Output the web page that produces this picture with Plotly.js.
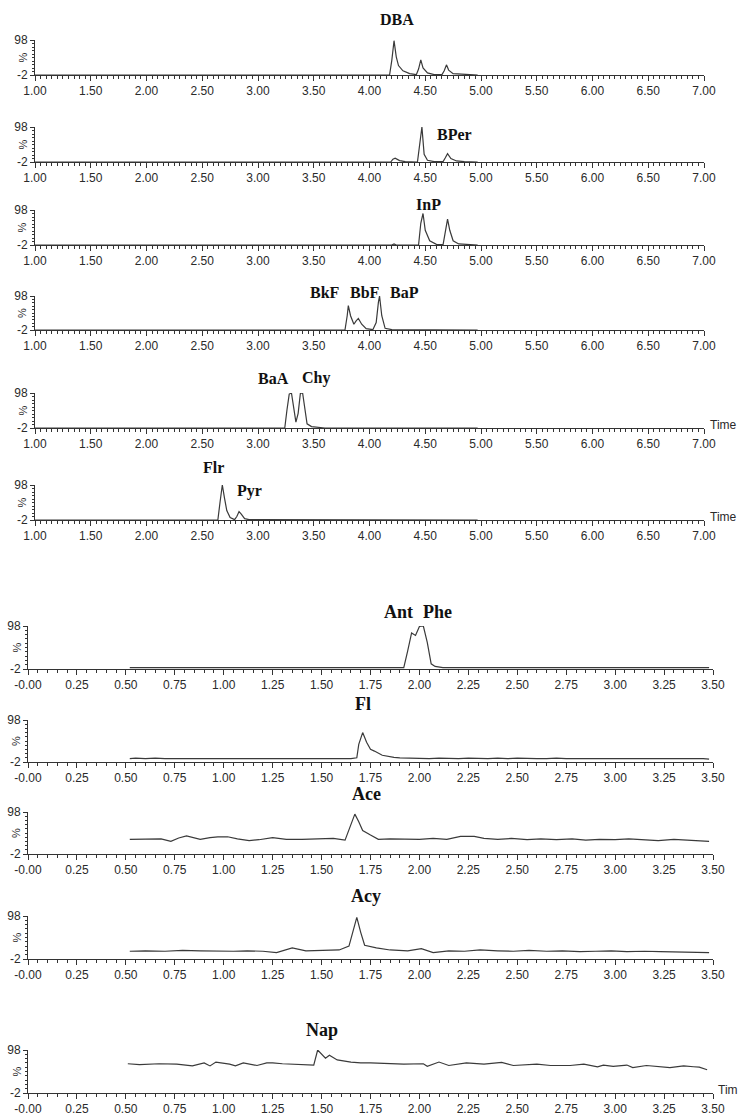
<!DOCTYPE html>
<html>
<head>
<meta charset="utf-8">
<script src="https://cdn.plot.ly/plotly-3.0.1.min.js"></script>
<style>html,body{margin:0;padding:0;background:#fff;}#chart{width:739px;height:1119px;}</style>
</head>
<body>
<div id="chart"></div>
<script>
// ---------- DATA ----------
// Upper chromatograms (retention time 1.00 - 7.00 min)
const dbaX = [1.00,4.18,4.20,4.22,4.24,4.26,4.30,4.36,4.42,4.44,4.46,4.48,4.52,4.58,4.65,4.67,4.69,4.71,4.75,4.82,4.90,4.97];
const dbaY = [-2,-2,40,96,50,25,10,2,-1,15,41,18,4,-1,-1,10,27,12,2,0,-1,-2];

const bperX = [1.00,4.19,4.21,4.23,4.27,4.32,4.43,4.45,4.47,4.49,4.52,4.58,4.66,4.68,4.70,4.73,4.78,4.85,4.97];
const bperY = [-2,-2,6,9,2,-1,-2,50,98,20,3,-1,-1,10,22,8,1,-1,-2];

const inpX = [1.00,4.20,4.22,4.24,4.44,4.46,4.48,4.50,4.54,4.60,4.66,4.68,4.70,4.72,4.75,4.80,4.88,4.97];
const inpY = [-2,-2,1,-2,-2,60,88,40,10,0,-1,40,72,40,10,1,-1,-2];

const bbfX = [1.00,3.78,3.80,3.81,3.83,3.86,3.88,3.90,3.93,3.97,4.03,4.06,4.08,4.09,4.11,4.14,4.20,4.97];
const bbfY = [-2,-2,40,70,40,15,25,32,15,2,-1,20,80,98,40,3,-1,-2];

const baaX = [1.00,3.24,3.26,3.28,3.30,3.32,3.34,3.36,3.38,3.40,3.42,3.44,3.48,3.55,3.60,4.97];
const baaY = [-2,-2,50,95,98,60,15,40,97,98,60,10,2,0,-2,-2];

const flrX = [1.00,2.64,2.66,2.68,2.70,2.72,2.75,2.79,2.81,2.83,2.85,2.88,2.92,4.97];
const flrY = [-2,-2,50,98,60,25,5,-1,8,22,15,2,-1,-2];

// Lower chromatograms (retention time 0.00 - 3.50 min)
const pheX = [0.52,1.92,1.94,1.96,1.98,2.00,2.02,2.04,2.06,2.08,2.12,3.48];
const pheY = [1,1,40,82,76,97,98,60,10,4,1,1];

const flX = [0.52,0.55,0.60,0.65,0.70,0.75,0.80,0.85,0.90,0.95,1.00,1.05,1.10,1.15,1.20,1.25,1.30,1.35,1.40,1.45,1.50,1.55,1.60,1.65,1.68,1.69,1.71,1.73,1.75,1.77,1.81,1.84,1.87,1.90,1.95,2.00,2.05,2.10,2.15,2.20,2.25,2.30,2.35,2.40,2.45,2.50,2.55,2.60,2.65,2.70,2.75,2.80,2.85,2.90,2.95,3.00,3.05,3.10,3.15,3.20,3.25,3.30,3.35,3.40,3.45,3.48];
const flY = [6,7,6,7,6,6,7,6,6,7,6,6,7,7,6,7,6,7,6,7,6,7,7,6,8,40,68,45,28,24,14,11,9,8,7,6,6,7,6,6,7,6,6,7,6,7,6,6,6,7,6,6,6,7,6,6,6,7,6,6,7,6,6,7,6,5];

const aceX = [0.52,0.60,0.68,0.73,0.77,0.81,0.85,0.88,0.93,0.97,1.02,1.07,1.13,1.18,1.25,1.32,1.40,1.48,1.56,1.62,1.64,1.67,1.69,1.71,1.75,1.79,1.85,1.92,2.00,2.07,2.14,2.21,2.28,2.33,2.40,2.47,2.55,2.62,2.70,2.78,2.85,2.92,3.00,3.07,3.15,3.22,3.30,3.38,3.44,3.48];
const aceY = [33,33,34,28,36,41,37,33,37,39,39,34,30,32,37,33,33,34,35,31,55,93,75,54,43,33,34,33,33,35,33,40,40,35,33,35,32,34,32,34,31,33,32,34,31,30,33,31,29,28];

const acyX = [0.52,0.60,0.70,0.79,0.88,0.97,1.05,1.12,1.20,1.27,1.35,1.42,1.50,1.55,1.59,1.64,1.66,1.68,1.70,1.72,1.78,1.85,1.94,2.01,2.07,2.15,2.23,2.31,2.40,2.48,2.56,2.65,2.73,2.82,2.90,2.98,3.06,3.15,3.23,3.32,3.40,3.48];
const acyY = [16,17,16,18,17,16,16,17,16,13,24,17,18,17,19,28,60,95,60,30,24,19,17,22,13,17,16,19,17,16,18,16,17,15,16,17,15,16,15,14,14,13];

const napX = [0.51,0.57,0.67,0.76,0.84,0.90,0.93,0.96,1.03,1.06,1.10,1.17,1.22,1.25,1.30,1.46,1.48,1.52,1.54,1.58,1.65,1.70,1.75,1.92,2.02,2.04,2.10,2.15,2.24,2.33,2.42,2.48,2.60,2.67,2.77,2.84,2.91,2.94,2.99,3.06,3.09,3.16,3.28,3.35,3.40,3.43,3.47];
const napY = [66,64,66,65,61,68,61,70,65,61,68,62,68,68,66,63,98,79,86,75,70,68,68,65,66,60,70,62,68,65,69,62,65,62,62,65,59,63,60,63,57,62,57,61,59,58,52];

// Compound labels
const topLabels = ["DBA","BPer","InP","BkF","BbF","BaP","BaA","Chy","Flr","Pyr"];
const botLabels = ["Ant","Phe","Fl","Ace","Acy","Nap"];
const yTickText = ["-2","98"];
const timeLabel = "Time";
const timeLabelCut = "Tim";

// ---------- LAYOUT ----------
const W = 739, H = 1119;
const px = v => v / W, py = v => 1 - v / H;

const panels = [
  {x: dbaX,  y: dbaY,  top: 40,   bot: 75,   g: 'A'},
  {x: bperX, y: bperY, top: 127,  bot: 162,  g: 'A'},
  {x: inpX,  y: inpY,  top: 210,  bot: 245,  g: 'A'},
  {x: bbfX,  y: bbfY,  top: 296,  bot: 330,  g: 'A'},
  {x: baaX,  y: baaY,  top: 393,  bot: 428,  g: 'A', time: timeLabel},
  {x: flrX,  y: flrY,  top: 485,  bot: 520,  g: 'A', time: timeLabel},
  {x: pheX,  y: pheY,  top: 626,  bot: 669,  g: 'B'},
  {x: flX,   y: flY,   top: 720,  bot: 762,  g: 'B'},
  {x: aceX,  y: aceY,  top: 812,  bot: 854,  g: 'B'},
  {x: acyX,  y: acyY,  top: 916,  bot: 959,  g: 'B'},
  {x: napX,  y: napY,  top: 1050, bot: 1093, g: 'B', time: timeLabelCut}
];

const labelPos = {
  "DBA": [397, 19], "BPer": [454, 134], "InP": [428, 204],
  "BkF": [325, 292], "BbF": [365, 292], "BaP": [404, 292],
  "BaA": [273, 378], "Chy": [316, 378],
  "Flr": [213, 467], "Pyr": [249, 491],
  "Ant": [398, 612], "Phe": [437, 612], "Fl": [363, 704],
  "Ace": [366, 794], "Acy": [366, 896], "Nap": [322, 1030]
};

const tickFont = {family: 'Liberation Sans, Arial, sans-serif', size: 12, color: '#2a2a2a'};
const axColor = '#333';
const traces = [];
const layout = {
  width: W, height: H,
  margin: {l: 0, r: 0, t: 0, b: 0},
  paper_bgcolor: '#fff', plot_bgcolor: 'rgba(0,0,0,0)',
  showlegend: false,
  annotations: []
};

panels.forEach((p, i) => {
  const n = i + 1;
  const xa = 'xaxis' + (n === 1 ? '' : n), ya = 'yaxis' + (n === 1 ? '' : n);
  const xr = 'x' + (n === 1 ? '' : n), yr = 'y' + (n === 1 ? '' : n);
  const isA = p.g === 'A';
  traces.push({
    type: 'scatter', mode: 'lines', x: p.x, y: p.y, xaxis: xr, yaxis: yr,
    line: {color: '#3a3a3a', width: 1.2}, hoverinfo: 'skip'
  });
  layout[xa] = {
    domain: isA ? [px(35), px(704)] : [px(28), px(713)],
    range: isA ? [1, 7] : [0, 3.5],
    anchor: yr,
    showline: true, linecolor: axColor, linewidth: 1,
    ticks: 'outside', ticklen: 5, tickwidth: 1, tickcolor: axColor,
    tickmode: 'linear', tick0: isA ? 1 : 0, dtick: isA ? 0.5 : 0.25,
    tickformat: '.2f', labelalias: {'0.00': '-0.00'},
    tickfont: tickFont,
    showgrid: false, zeroline: false, fixedrange: true,
    minor: {tick0: 0, dtick: 0.05, ticks: 'outside', ticklen: 3, tickwidth: 1, tickcolor: axColor, showgrid: false}
  };
  layout[ya] = {
    domain: [py(p.bot), py(p.top)],
    range: [-2, 98],
    anchor: xr,
    showline: true, linecolor: axColor, linewidth: 1,
    ticks: 'outside', ticklen: 4, tickwidth: 1, tickcolor: axColor,
    tickmode: 'array', tickvals: [-2, 98], ticktext: yTickText,
    tickfont: tickFont,
    showgrid: false, zeroline: false, fixedrange: true,
    minor: {tickmode: 'linear', tick0: -2, dtick: 10, ticks: 'outside', ticklen: 2, tickwidth: 1, tickcolor: axColor, showgrid: false}
  };
  // "%" label
  layout.annotations.push({
    text: '%', xref: 'paper', yref: 'paper',
    x: px(isA ? 22 : 16), y: py((p.top + p.bot) / 2),
    showarrow: false, textangle: -90,
    font: {family: 'Liberation Sans, Arial, sans-serif', size: 11, color: '#2a2a2a'},
    xanchor: 'center', yanchor: 'middle'
  });
  if (p.time) {
    layout.annotations.push({
      text: p.time, xref: 'paper', yref: 'paper',
      x: px(isA ? 708 : 716), y: py(p.bot - 3),
      showarrow: false, xanchor: 'left', yanchor: 'middle',
      font: {family: 'Liberation Sans, Arial, sans-serif', size: 12, color: '#2a2a2a'}
    });
  }
});

topLabels.concat(botLabels).forEach(lab => {
  const pos = labelPos[lab];
  const big = botLabels.includes(lab);
  layout.annotations.push({
    text: '<b>' + lab + '</b>', xref: 'paper', yref: 'paper',
    x: px(pos[0]), y: py(pos[1]), showarrow: false,
    xanchor: 'center', yanchor: 'middle',
    font: {family: 'Liberation Serif, Times New Roman, serif', size: big ? 18 : 16, color: '#111'}
  });
});

Plotly.newPlot('chart', traces, layout, {staticPlot: true, displayModeBar: false});
</script>
</body>
</html>
